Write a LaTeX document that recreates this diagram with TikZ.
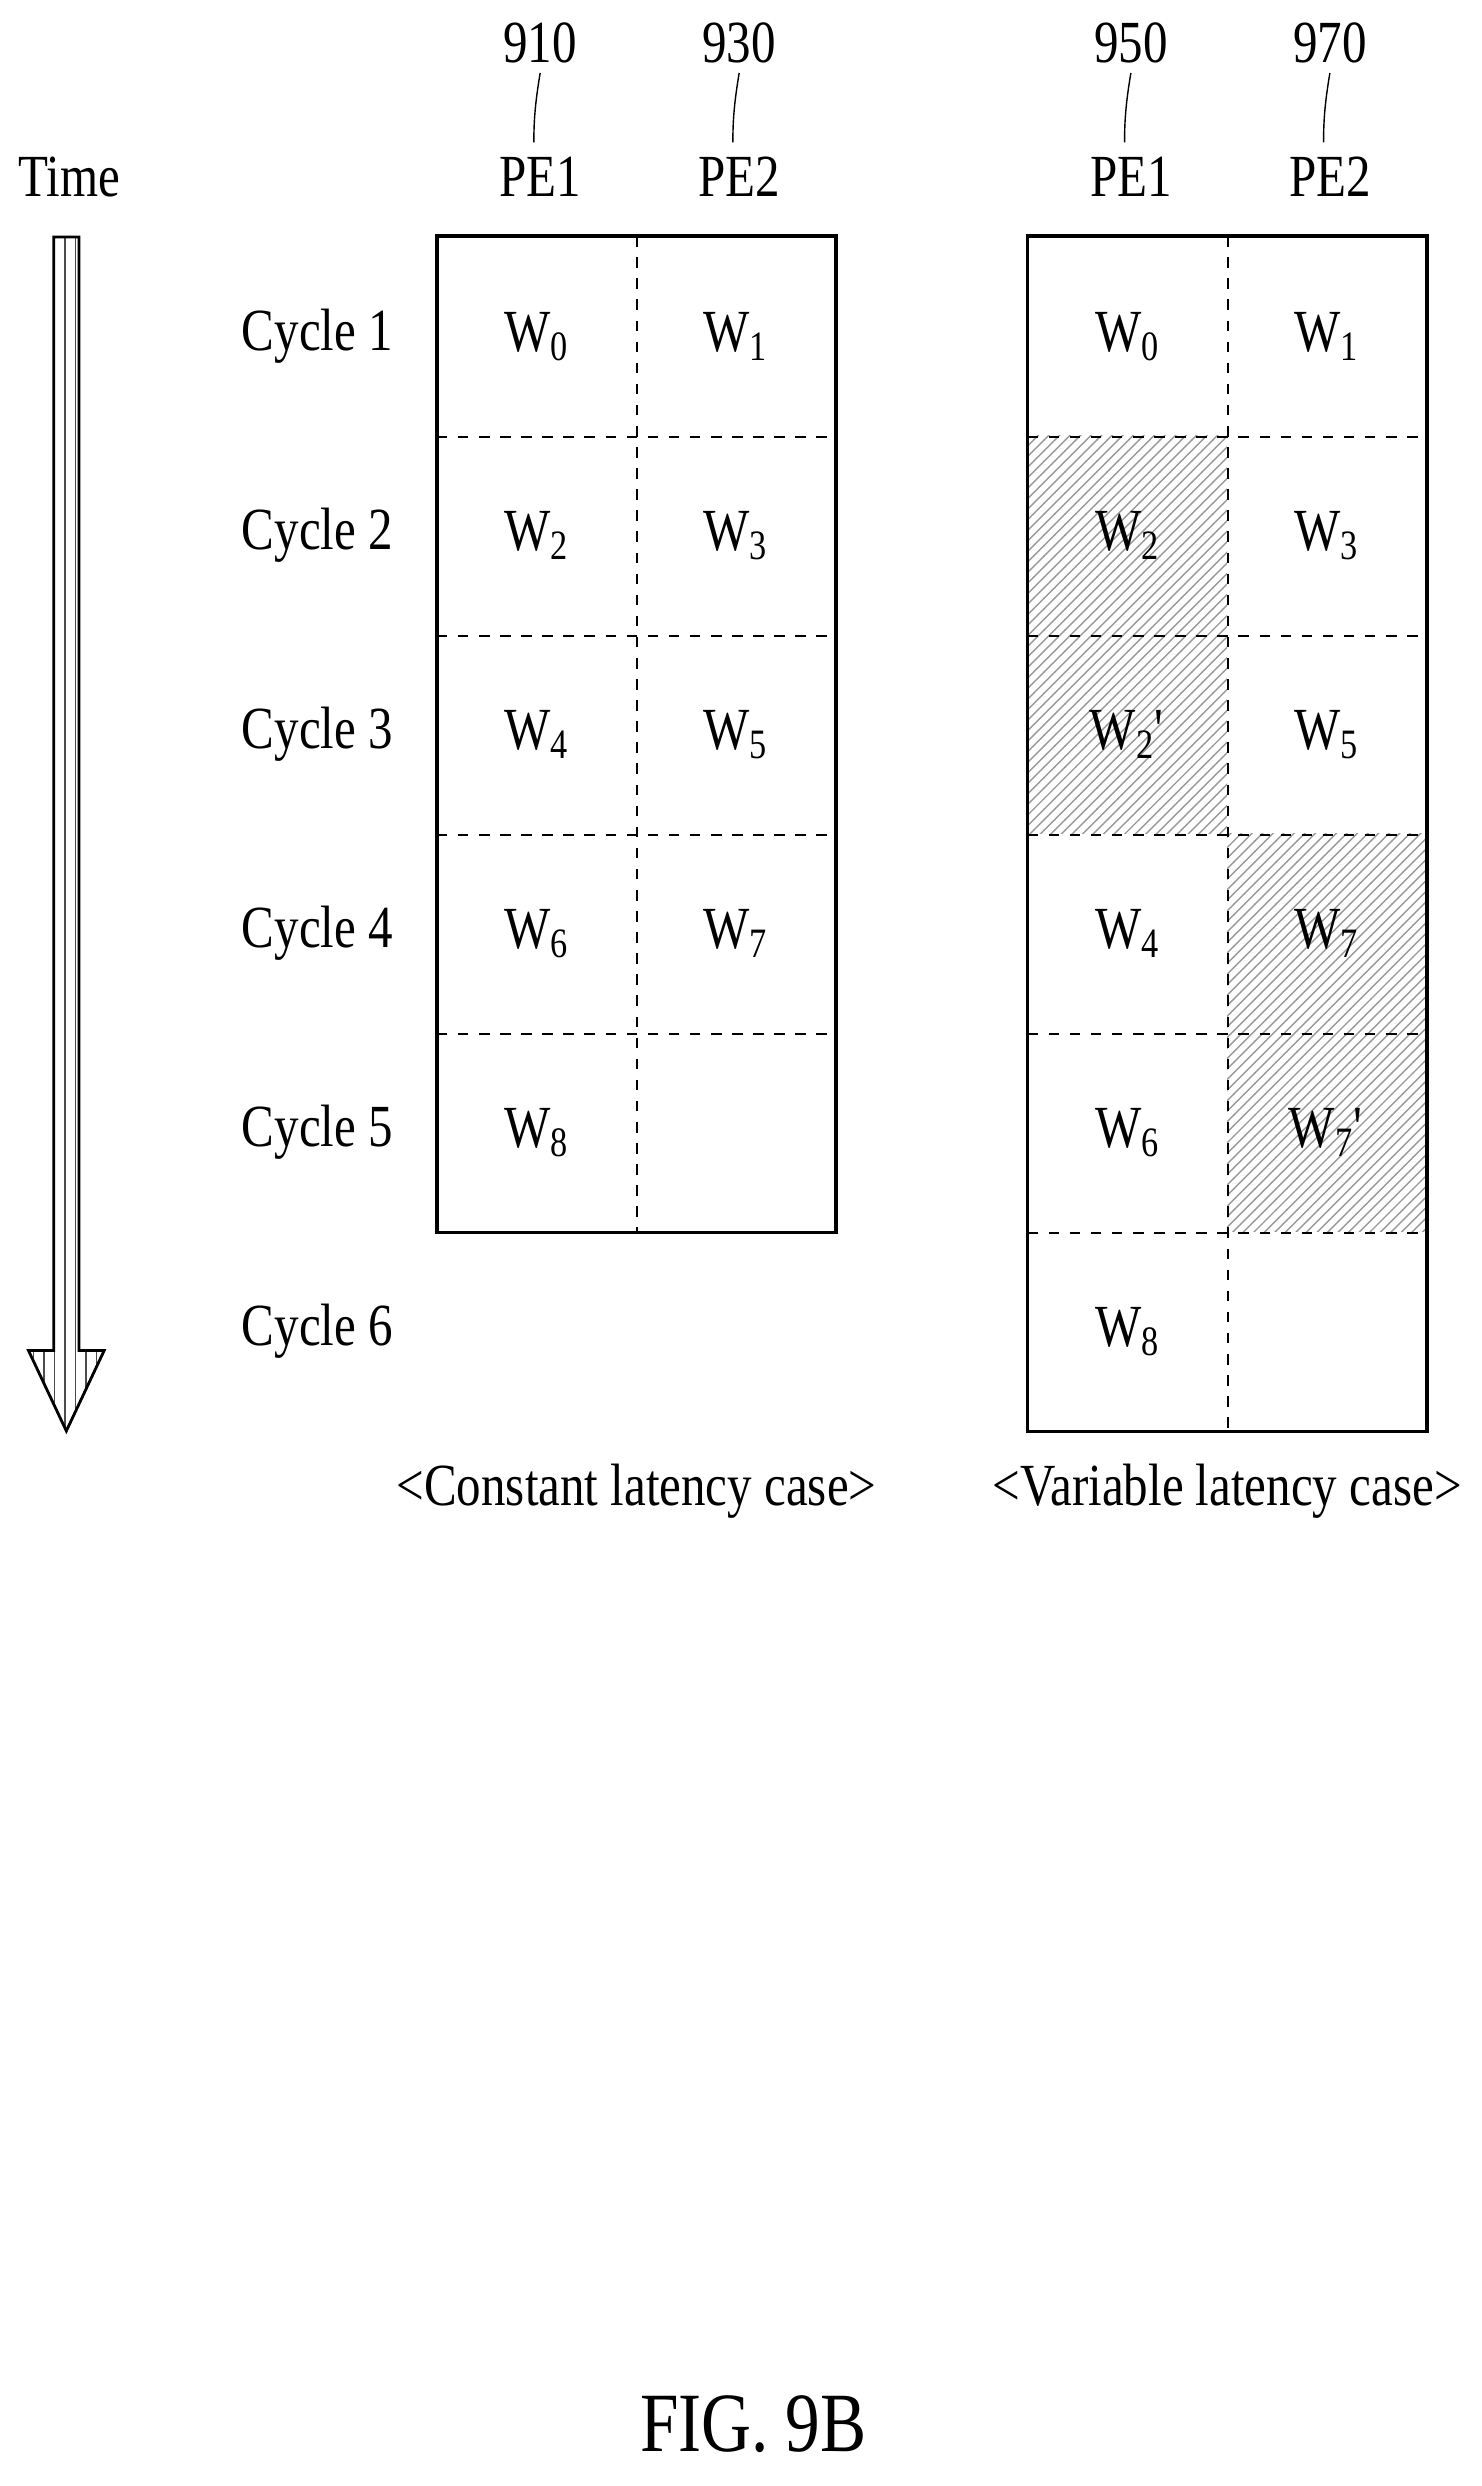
\documentclass[tikz,border=0pt]{standalone}
\usepackage{fontspec}
\setmainfont{Liberation Serif}[FakeStretch=0.82]
\usetikzlibrary{patterns}

\newlength{\pxu}
\setlength{\pxu}{0.01579cm}
\tikzset{
  lbl/.style={font=\fontsize{17}{20}\selectfont, inner sep=0pt},
  cell/.style={minimum width=126\pxu, minimum height=126\pxu, inner sep=0pt, font=\fontsize{17}{20}\selectfont},
  hatched/.style={pattern=north east lines, pattern color=gray!80},
  grid line/.style={dashed, line width=0.5pt},
  frame/.style={line width=1pt}
}

\begin{document}
\begin{tikzpicture}[x=\pxu,y=-\pxu]
\useasboundingbox (0,0) rectangle (938,1574);

% time arrow
\node[lbl] (time) at (44,112) {Time};
\draw[line width=0.8pt, pattern=vertical lines, pattern color=black!70]
  (36,150) -- (50,150) -- (50,855) -- (66,855) -- (42,906) -- (18,855) -- (34,855) -- (34,150) -- cycle;

% cycle labels
\foreach \i in {1,...,6}
  \node[lbl] (cyc\i) at (201,{87+126*\i}) {Cycle \i};

% reference numbers and PE headers
\foreach \num/\x/\pe in {910/342/PE1, 930/468/PE2, 950/716/PE1, 970/842/PE2}{
  \node[lbl] (num\num) at (\x,27) {\num};
  \node[lbl] (pe\num) at (\x,112) {\pe};
  \draw (num\num.south) ++(0,6) .. controls +(-3,18) and +(0,-15) .. ++(-4,44);
}

% left table cells
\foreach \r/\a/\b in {1/W\textsubscript{0}/W\textsubscript{1}, 2/W\textsubscript{2}/W\textsubscript{3},
  3/W\textsubscript{4}/W\textsubscript{5}, 4/W\textsubscript{6}/W\textsubscript{7}, 5/W\textsubscript{8}/{}}{
  \node[cell] (ca\r) at (340,{87+126*\r}) {\a};
  \node[cell] (cb\r) at (466,{87+126*\r}) {\b};
}

% right table cells
\fill[hatched] (651,276) rectangle (777,528);
\fill[hatched] (777,528) rectangle (903,780);
\foreach \r/\a/\b in {1/W\textsubscript{0}/W\textsubscript{1}, 2/W\textsubscript{2}/W\textsubscript{3},
  3/W\textsubscript{2}\textquotesingle/W\textsubscript{5}, 4/W\textsubscript{4}/W\textsubscript{7},
  5/W\textsubscript{6}/W\textsubscript{7}\textquotesingle, 6/W\textsubscript{8}/{}}{
  \node[cell] (va\r) at (714,{87+126*\r}) {\a};
  \node[cell] (vb\r) at (840,{87+126*\r}) {\b};
}

% grid lines
\foreach \r in {1,...,4}
  \draw[grid line] (ca\r.south west) -- (cb\r.south east);
\draw[grid line] (ca1.north east) -- (ca5.south east);
\draw[frame] (ca1.north west) rectangle (cb5.south east);

\foreach \r in {1,...,5}
  \draw[grid line] (va\r.south west) -- (vb\r.south east);
\draw[grid line] (va1.north east) -- (va6.south east);
\draw[frame] (va1.north west) rectangle (vb6.south east);

% captions
\node[lbl] (capa) at (403,944) {<Constant latency case>};
\node[lbl] (capb) at (777,944) {<Variable latency case>};
\node[lbl, font=\fontsize{24}{28}\selectfont] (fig) at (477,1535) {FIG. 9B};
\end{tikzpicture}
\end{document}
